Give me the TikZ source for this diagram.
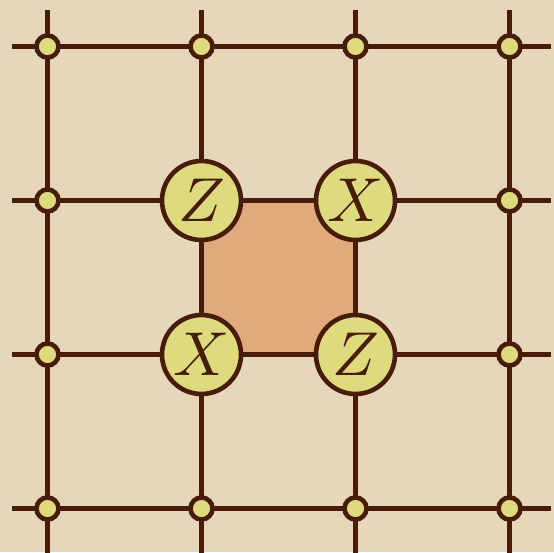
\documentclass[tikz,border=0pt]{standalone}
\usepackage{graphicx}
\definecolor{bg}{RGB}{229,214,188}
\definecolor{ink}{RGB}{72,28,10}
\definecolor{yel}{RGB}{221,219,125}
\definecolor{sq}{RGB}{224,170,124}
\tikzset{
  gridline/.style={draw=ink, line width=4.6pt},
  small/.style={circle, draw=ink, fill=yel, line width=4.6pt, minimum size=22pt, inner sep=0pt},
  big/.style={circle, draw=ink, fill=yel, line width=4.6pt, minimum size=79pt, inner sep=0pt, text=ink},
}
\newcommand{\biglab}[1]{\scalebox{6.2}{$#1$}}
\begin{document}
\begin{tikzpicture}[x=1pt,y=1pt]
\fill[bg] (0,0) rectangle (554,552);
\useasboundingbox (0,0) rectangle (554,552);
% grid coordinates (y flipped)
\foreach \i/\x in {1/47.5,2/201.5,3/355.5,4/509.5}{
  \coordinate (t\i) at (\x,542);
  \coordinate (b\i) at (\x,-5);
}
\foreach \j/\y in {1/505.5,2/351.5,3/197.5,4/43.5}{
  \coordinate (l\j) at (12,\y);
  \coordinate (r\j) at (551,\y);
}
\foreach \i in {1,...,4}{
  \draw[gridline] (t\i) -- (b\i);
  \draw[gridline] (l\i) -- (r\i);
}
% plaquette
\coordinate (p1) at (201.5,351.5);
\coordinate (p2) at (355.5,351.5);
\coordinate (p3) at (355.5,197.5);
\coordinate (p4) at (201.5,197.5);
\filldraw[fill=sq, draw=ink, line width=5.5pt] (p1) -- (p2) -- (p3) -- (p4) -- cycle;
% small nodes
\node[small] (n11) at (47.5,505.5) {};
\node[small] (n21) at (201.5,505.5) {};
\node[small] (n31) at (355.5,505.5) {};
\node[small] (n41) at (509.5,505.5) {};
\node[small] (n12) at (47.5,351.5) {};
\node[small] (n42) at (509.5,351.5) {};
\node[small] (n13) at (47.5,197.5) {};
\node[small] (n43) at (509.5,197.5) {};
\node[small] (n14) at (47.5,43.5) {};
\node[small] (n24) at (201.5,43.5) {};
\node[small] (n34) at (355.5,43.5) {};
\node[small] (n44) at (509.5,43.5) {};
% big nodes
\node[big] (z1) at (201.5,351.5) {\biglab{Z}};
\node[big] (x1) at (355.5,351.5) {\biglab{X}};
\node[big] (x2) at (201.5,197.5) {\biglab{X}};
\node[big] (z2) at (355.5,197.5) {\biglab{Z}};
\end{tikzpicture}
\end{document}
